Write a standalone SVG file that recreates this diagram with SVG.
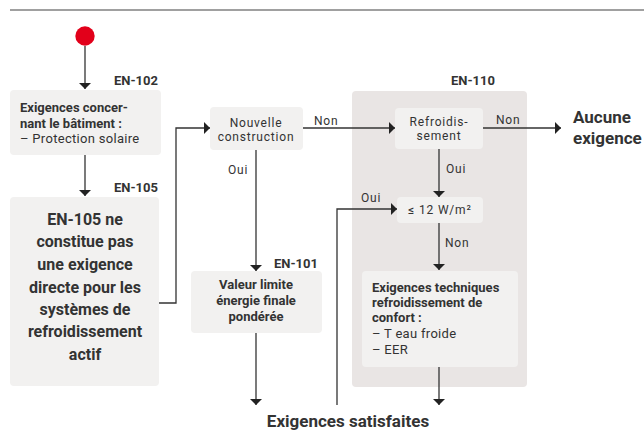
<svg xmlns="http://www.w3.org/2000/svg" width="644" height="433" viewBox="0 0 644 433">
<style>
text{font-family:Roboto,"Liberation Sans",sans-serif;fill:#333;}
.b{font-weight:bold;}
.s{font-size:13px;}
.r{letter-spacing:0.3px;}
.m{font-size:12px;letter-spacing:0.8px;}
.l{font-size:16px;font-weight:bold;}
.xl{font-size:17px;font-weight:bold;}
.box{fill:#f2f1f0;}
.ln{fill:none;stroke:#333;stroke-width:1.3;}
</style>
<defs>
<marker id="ah" viewBox="0 0 6 12" refX="6" refY="6" markerWidth="6" markerHeight="12" markerUnits="userSpaceOnUse" orient="auto">
<path d="M0,0 L6,6 L0,12 z" fill="#222"/>
</marker>
</defs>
<line x1="10" y1="10" x2="644" y2="10" stroke="#808080" stroke-width="1.3"/>
<g id="region-en110">
<rect x="352" y="91" width="175" height="296" rx="4" fill="#e9e5e4"/>
<text class="b s" x="473" y="85" text-anchor="middle">EN-110</text>
</g>
<g id="start"><circle cx="85" cy="36" r="9.7" fill="#e2001a"/></g>
<g id="en102">
<text class="b s" x="158" y="85" text-anchor="end">EN-102</text>
<rect class="box" x="10" y="90" width="151" height="65" rx="4"/>
<text class="b s" x="20" y="112">Exigences concer-</text>
<text class="b s" x="20" y="128">nant le bâtiment :</text>
<text class="s r" x="20" y="143">– Protection solaire</text>
</g>
<g id="en105">
<text class="b s" x="158" y="192" text-anchor="end">EN-105</text>
<rect class="box" x="10" y="197" width="149" height="189" rx="4"/>
<text class="l" text-anchor="middle" x="85" y="225">EN-105 ne</text>
<text class="l" text-anchor="middle" x="85" y="247">constitue pas</text>
<text class="l" text-anchor="middle" x="85" y="270">une exigence</text>
<text class="l" text-anchor="middle" x="85" y="293">directe pour les</text>
<text class="l" text-anchor="middle" x="85" y="315">systèmes de</text>
<text class="l" text-anchor="middle" x="85" y="337">refroidissement</text>
<text class="l" text-anchor="middle" x="85" y="360">actif</text>
</g>
<g id="nouvelle">
<rect class="box" x="210" y="107" width="93" height="43" rx="4"/>
<text class="m" text-anchor="middle" x="256" y="127">Nouvelle</text>
<text class="m" text-anchor="middle" x="256" y="141">construction</text>
</g>
<g id="en101">
<text class="b s" x="318" y="268" text-anchor="end">EN-101</text>
<rect class="box" x="191" y="271" width="131" height="62" rx="4"/>
<text class="b s" text-anchor="middle" x="256" y="289">Valeur limite</text>
<text class="b s" text-anchor="middle" x="256" y="305">énergie finale</text>
<text class="b s" text-anchor="middle" x="256" y="321">pondérée</text>
</g>
<g id="refroid">
<rect class="box" x="395" y="108" width="88" height="41" rx="4"/>
<text class="m" text-anchor="middle" x="439" y="126">Refroidis-</text>
<text class="m" text-anchor="middle" x="439" y="140">sement</text>
</g>
<g id="seuil">
<rect class="box" x="397" y="197" width="86" height="26" rx="4"/>
<text class="m" text-anchor="middle" x="440" y="214">≤ 12 W/m²</text>
</g>
<g id="techniques">
<rect class="box" x="362" y="271" width="156" height="96" rx="4"/>
<text class="b s" x="372" y="292">Exigences techniques</text>
<text class="b s" x="372" y="307">refroidissement de</text>
<text class="b s" x="372" y="322">confort :</text>
<text class="s r" x="372" y="338">– T eau froide</text>
<text class="s r" x="372" y="354">– EER</text>
</g>
<g id="aucune">
<text class="xl" x="573" y="123">Aucune</text>
<text class="xl" x="573" y="144">exigence</text>
</g>
<g id="satisfaites">
<text class="xl" x="348" y="427" text-anchor="middle">Exigences satisfaites</text>
</g>
<g id="connectors">
<path class="ln" d="M85,46 V89" marker-end="url(#ah)"/>
<path class="ln" d="M85,155 V196" marker-end="url(#ah)"/>
<path class="ln" d="M159,303 H176 V128 H210" marker-end="url(#ah)"/>
<path class="ln" d="M303,128 H395" marker-end="url(#ah)"/>
<path class="ln" d="M256,150 V271" marker-end="url(#ah)"/>
<path class="ln" d="M483,128 H561" marker-end="url(#ah)"/>
<path class="ln" d="M439,149 V197" marker-end="url(#ah)"/>
<path class="ln" d="M337,405 V209 H397" marker-end="url(#ah)"/>
<path class="ln" d="M439,223 V270" marker-end="url(#ah)"/>
<path class="ln" d="M256,333 V405" marker-end="url(#ah)"/>
<path class="ln" d="M439,367 V405" marker-end="url(#ah)"/>
<text class="m" x="314" y="125">Non</text>
<text class="m" x="228" y="174">Oui</text>
<text class="m" x="496" y="124">Non</text>
<text class="m" x="446" y="173">Oui</text>
<text class="m" x="361" y="202">Oui</text>
<text class="m" x="445" y="247">Non</text>
</g>
</svg>
